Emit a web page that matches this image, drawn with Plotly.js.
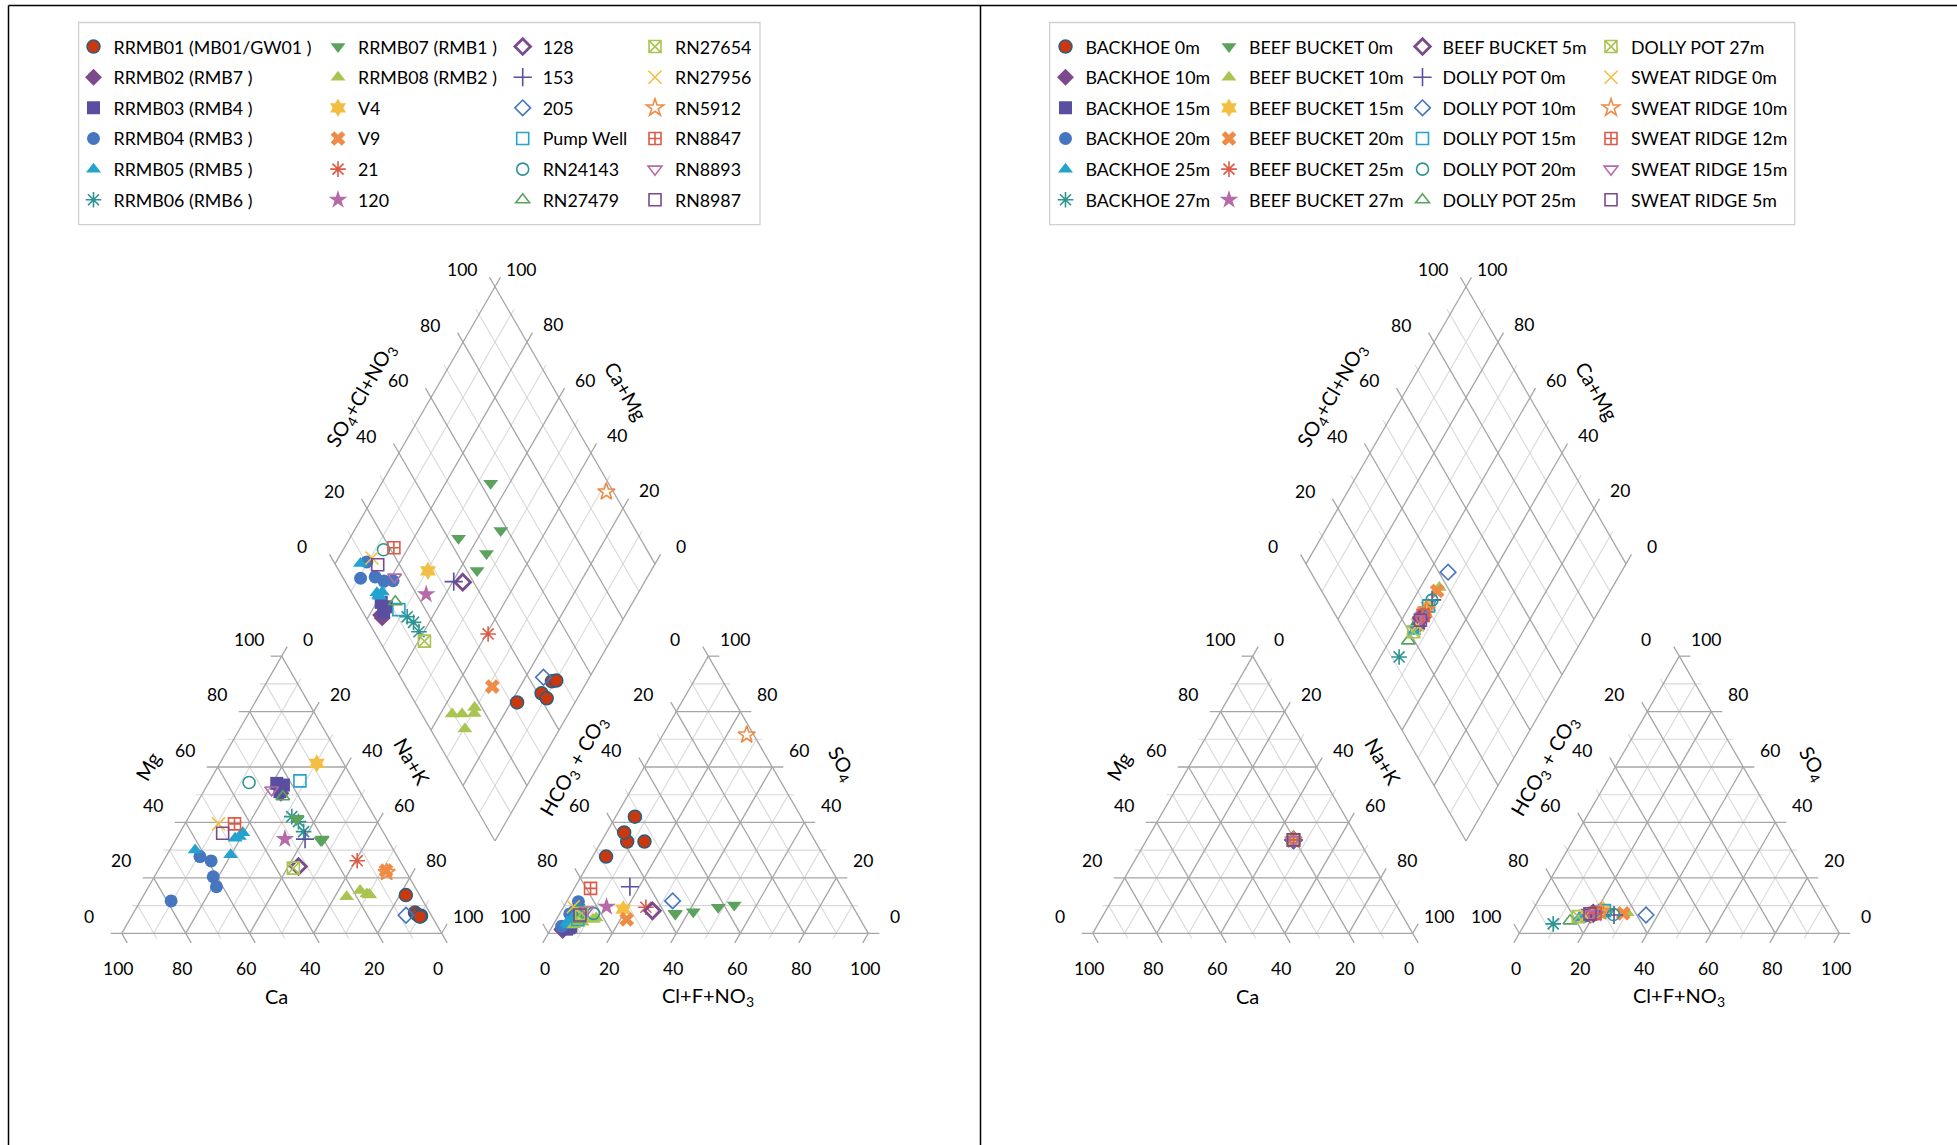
<!DOCTYPE html>
<html><head><meta charset="utf-8">
<script src="https://cdn.plot.ly/plotly-3.0.1.min.js"></script>
<style>html,body{margin:0;padding:0;background:#fff}#chart{width:1957px;height:1145px}</style>
</head><body><div id="chart"></div>
<script>
// ================= DATA (percent of meq) =================
const LEFT_NAMES = ["RRMB01 (MB01/GW01 )","RRMB02 (RMB7 )","RRMB03 (RMB4 )","RRMB04 (RMB3 )","RRMB05 (RMB5 )","RRMB06 (RMB6 )",
  "RRMB07 (RMB1 )","RRMB08 (RMB2 )","V4","V9","21","120",
  "128","153","205","Pump Well","RN24143","RN27479",
  "RN27654","RN27956","RN5912","RN8847","RN8893","RN8987"];
const LEFT_MG = [[13.8,7.5,6.3,6.7,6.0],[50.5,52.5],[54.1,53.5,51.1],[11.7,27.7,26.1,20.4,16.8],[30.1,28.3,34.3,34.9,36.3],[42.1,40.3,36.7],
  [41.1,33.7,41.5,33.5,34.0],[13.2,15.4,14.2,13.8,14.0],[61.3],[22.6],[26.2],[34.0],
  [24.1],[34.0],[6.5],[55.0],[54.4],[49.3],
  [23.5],[39.5],[22.0],[39.5],[51.7],[36.1]];
const LEFT_NA = [[81.9,87.9,90.4,89.0,90.2],[24.5,23.5],[21.4,23.8,23.9],[9.6,10.6,14.9,18.4,21.2],[7.9,19.9,18.3,19.3,19.7],[32.1,35.1,38.5],
  [34.1,45.8,34.0,45.5,45.6],[63.7,66.8,69.5,70.5,70.4],[30.3],[71.3],[60.5],[34.0],
  [43.2],[40.3],[85.6],[28.2],[12.6],[25.7],
  [41.9],[10.5],[71.8],[15.5],[21.0],[13.5]];
const LEFT_SO4 = [[27.7,33.1,36.4,33.1,42.1],[1.0,1.5],[2.0,2.5,1.5],[6.0,2.5,7.0,8.0,11.4],[4.0,5.0,3.5,4.0,3.0],[8.0,8.5,7.5],
  [10.2,9.4,7.2,7.8,7.0],[3.0,4.0,5.5,5.0,3.5],[8.7],[5.0],[9.4],[9.6],
  [8.1],[16.8],[11.7],[5.0],[7.2],[5.0],
  [7.2],[9.6],[71.6],[16.2],[8.4],[6.6]];
const LEFT_CL = [[4.2,8.1,5.5,13.5,6.0],[4.0,3.5],[5.5,5.8,5.0],[4.3,2.9,3.2,4.2,3.7],[4.0,4.7,4.4,4.0,5.0],[5.0,5.5,6.5],
  [53.0,48.4,36.0,41.4,36.2],[6.5,8.6,12.2,11.5,7.3],[19.1],[22.0],[25.8],[13.4],
  [28.5],[17.1],[33.0],[6.7],[10.5],[7.0],
  [6.8],[3.0],[26.2],[5.1],[7.8],[6.6]];

const RIGHT_NAMES = ["BACKHOE 0m","BACKHOE 10m","BACKHOE 15m","BACKHOE 20m","BACKHOE 25m","BACKHOE 27m",
  "BEEF BUCKET 0m","BEEF BUCKET 10m","BEEF BUCKET 15m","BEEF BUCKET 20m","BEEF BUCKET 25m","BEEF BUCKET 27m",
  "BEEF BUCKET 5m","DOLLY POT 0m","DOLLY POT 10m","DOLLY POT 15m","DOLLY POT 20m","DOLLY POT 25m",
  "DOLLY POT 27m","SWEAT RIDGE 0m","SWEAT RIDGE 10m","SWEAT RIDGE 12m","SWEAT RIDGE 15m","SWEAT RIDGE 5m"];
const RIGHT_MG = [33.7,33.7,33.7,33.7,33.7,33.7, 33.7,33.7,33.7,33.7,33.7,33.7, 33.7,33.7,33.7,33.7,33.7,33.7, 33.7,33.7,33.7,33.7,33.7,33.7];
const RIGHT_NA = [45.9,45.9,45.9,45.9,45.9,45.9, 45.9,45.9,45.9,45.9,45.9,45.9, 45.9,45.9,45.9,45.9,45.9,45.9, 45.9,45.9,45.9,45.9,45.9,45.9];
const RIGHT_SO4 = [7.0,6.5,6.5,6.0,5.5,3.4, 8.0,7.4,8.5,7.2,7.5,7.0, 7.2,6.6,6.6,8.2,6.8,4.5, 6.0,6.3,7.8,7.2,7.0,7.0];
const RIGHT_CL = [20.0,19.0,18.0,17.0,16.0,8.9, 24.0,30.0,22.0,28.9,21.0,20.5, 19.5,26.3,36.3,22.5,26.0,13.6, 15.4,17.5,21.5,20.1,19.0,18.6];

const TICK_VALUES = [0,20,40,60,80,100];
const GRID_VALUES = [0,10,20,30,40,50,60,70,80,90,100];

// ================= STYLE =================
const SYMBOLS = ['circle','diamond','square','circle','triangle-up','asterisk-open',
  'triangle-down','triangle-up','hexagram','x','asterisk-open','star',
  'diamond-open','cross-thin-open','diamond-open','square-open','circle-open','triangle-up-open',
  'square-x-open','x-thin-open','star-open','square-cross-open','triangle-down-open','square-open'];
const COLORS = ['#C9380F','#7A4A8C','#5A4EA0','#4676BF','#24A3CF','#2D9393',
  '#5BA35C','#A9C451','#F3BF43','#EE8C45','#DD5A47','#B76AA8',
  '#7A4A8C','#5A4EA0','#4676BF','#24A3CF','#2D9393','#5BA35C',
  '#A9C451','#F3BF43','#EE8C45','#DD5A47','#B76AA8','#7A4A8C'];
const SIZES = [13,13,13,13,13,13, 13,13,14,13,13,14, 12,13,12,12,12,12, 12,13,13,12,12,12];
const LINE_W = [1.5,0,0,0,0,1.6, 0,0,0,0,1.6,0, 2.8,1.6,1.6,1.6,1.6,1.6, 1.6,1.6,1.6,1.6,1.6,1.6];
const FONT = 'Lato, "Open Sans", sans-serif';

// ================= GEOMETRY (layout in px) =================
const W = 1957, HGT = 1145;
const SQ = Math.sqrt(3)/2;
const SIDE = 320, TH = SIDE*SQ;
const BASE_Y = 933.3, CAT_X0 = 121.7, AN_X0 = 548.3, PANEL_DX = 971;
const DIA_X = (CAT_X0 + SIDE + AN_X0)/2;
const DIA_Y = BASE_Y - (AN_X0 - CAT_X0 - SIDE)*SQ;

function cat(dx, mg, na){ return [dx + CAT_X0 + SIDE*(na + mg/2)/100, BASE_Y - TH*mg/100]; }
function an(dx, so4, cl){ return [dx + AN_X0 + SIDE*(cl + so4/2)/100, BASE_Y - TH*so4/100]; }
function dia(dx, camg, s){ return [dx + DIA_X + SIDE/2*(s - camg)/100, DIA_Y - TH*(camg + s)/100]; }
function add(p, v, t){ return [p[0]+v[0]*t, p[1]+v[1]*t]; }
function off(p, ox, oy){ return [p[0]+ox, p[1]+oy]; }
const DIR_L=[-1,0], DIR_R=[1,0], UR=[0.5,-SQ], DR=[0.5,SQ], DL=[-0.5,SQ], UL=[-0.5,-SQ];

function gridTraces(dx){
  const major = {x:[],y:[]}, minor = {x:[],y:[]};
  function seg(g,a,b){ g.x.push(a[0],b[0],null); g.y.push(a[1],b[1],null); }
  GRID_VALUES.forEach(v=>{
    const isMaj = v%20===0, g = isMaj?major:minor, t = isMaj?11:6;
    seg(g, add(cat(dx,v,0),DIR_L,t), cat(dx,v,100-v));
    seg(g, cat(dx,0,v), add(cat(dx,100-v,v),UR,t));
    seg(g, add(cat(dx,0,100-v),DR,t), cat(dx,100-v,0));
    seg(g, an(dx,v,0), add(an(dx,v,100-v),DIR_R,t));
    seg(g, add(an(dx,0,v),DL,t), an(dx,100-v,v));
    seg(g, an(dx,0,100-v), add(an(dx,100-v,0),UL,t));
    seg(g, dia(dx,v,0), add(dia(dx,v,100),UR,t));
    seg(g, dia(dx,0,v), add(dia(dx,100,v),UL,t));
  });
  const base = {type:'scatter', mode:'lines', hoverinfo:'skip', showlegend:false};
  return [
    Object.assign({}, base, {x:minor.x, y:minor.y, line:{color:'#D9D9D9', width:1.1}}),
    Object.assign({}, base, {x:major.x, y:major.y, line:{color:'#A6A6A6', width:1.3}})
  ];
}

function textAnn(p, text, size, angle){
  return {x:p[0], y:p[1], xref:'x', yref:'y', text:text, showarrow:false,
    xanchor:'center', yanchor:'middle', textangle:angle||0,
    font:{family:FONT, size:size, color:'#000'}};
}
function axisAnnotations(dx){
  const a = [];
  TICK_VALUES.forEach(v=>{
    const s = String(v);
    a.push(textAnn(off(cat(dx,v,0),-33,-17), s, 17.5));
    a.push(textAnn(off(cat(dx,100-v,v),26,-17), s, 17.5));
    a.push(textAnn(off(cat(dx,0,100-v),-4,35), s, 17.5));
    a.push(textAnn(off(an(dx,100-v,0),-33,-17), s, 17.5));
    a.push(textAnn(off(an(dx,v,100-v),27,-17), s, 17.5));
    a.push(textAnn(off(an(dx,0,v),-3,35), s, 17.5));
    a.push(textAnn(off(dia(dx,100,v),-33,-17), s, 17.5));
    a.push(textAnn(off(dia(dx,v,100),26,-17.5), s, 17.5));
  });
  a.push(textAnn(off(cat(dx,0,50),-5,63), 'Ca', 20));
  a.push(textAnn(off(cat(dx,50,0),-54,-29), 'Mg', 20, -60));
  a.push(textAnn(off(cat(dx,50,50),51,-33), 'Na+K', 20, 60));
  a.push(textAnn(off(an(dx,0,50),0,63), 'Cl+F+NO<sub>3</sub>', 20));
  a.push(textAnn(off(an(dx,50,0),-54,-29), 'HCO<sub>3</sub> + CO<sub>3</sub>', 20, -60));
  a.push(textAnn(off(an(dx,50,50),53,-31), 'SO<sub>4</sub>', 20, 60));
  a.push(textAnn(off(dia(dx,100,50),-54,-30), 'SO<sub>4</sub>+Cl+NO<sub>3</sub>', 20, -60));
  a.push(textAnn(off(dia(dx,50,100),51,-34), 'Ca+Mg', 20, 60));
  return a;
}

function seriesTrace(dx, name, i, mg, na, so4, cl, legendId, group){
  const x = [], y = [];
  for (let j=0;j<mg.length;j++){
    const p1 = cat(dx, mg[j], na[j]);
    const p2 = an(dx, so4[j], cl[j]);
    const p3 = dia(dx, 100 - na[j], so4[j] + cl[j]);
    x.push(p1[0], p2[0], p3[0]); y.push(p1[1], p2[1], p3[1]);
  }
  const filled = SYMBOLS[i].indexOf('open') < 0;
  const lineColor = (i === 0) ? '#2A5E80' : COLORS[i];
  return {type:'scatter', mode:'markers', name:name, x:x, y:y, hoverinfo:'skip',
    legend:legendId, legendgroup:group,
    marker:{symbol:SYMBOLS[i], size:SIZES[i], color:COLORS[i],
      line:{color:lineColor, width: filled ? (i===0 ? 1.5 : 0) : LINE_W[i]}}};
}

const traces = [].concat(gridTraces(0), gridTraces(PANEL_DX));
LEFT_NAMES.forEach((n,i)=>{
  const lg = 'legend' + (Math.floor(i/6)===0 ? '' : (Math.floor(i/6)+1));
  traces.push(seriesTrace(0, n, i, LEFT_MG[i], LEFT_NA[i], LEFT_SO4[i], LEFT_CL[i], lg, 'L'+i));
});
RIGHT_NAMES.forEach((n,i)=>{
  const lg = 'legend' + (Math.floor(i/6)+5);
  traces.push(seriesTrace(PANEL_DX, n, i, [RIGHT_MG[i]], [RIGHT_NA[i]], [RIGHT_SO4[i]], [RIGHT_CL[i]], lg, 'R'+i));
});

// legend column marker positions (px)
const LEG_COLS = [93.5, 338, 522.7, 655, 1065.5, 1229, 1422.5, 1611];
const LEG_TOP = 28.5;
function legendCfg(xpx){
  return {x:(xpx-20)/W, y:1-LEG_TOP/HGT, xanchor:'left', yanchor:'top', orientation:'v',
    bgcolor:'rgba(0,0,0,0)', borderwidth:0, traceorder:'grouped', tracegroupgap:4.5,
    font:{family:FONT, size:17.8, color:'#000'}, itemclick:false, itemdoubleclick:false};
}

const layout = {
  width:W, height:HGT, margin:{l:0,r:0,t:0,b:0},
  paper_bgcolor:'#fff', plot_bgcolor:'#fff', hovermode:false, dragmode:false,
  xaxis:{range:[0,W], visible:false, fixedrange:true},
  yaxis:{range:[HGT,0], visible:false, fixedrange:true},
  annotations:[].concat(axisAnnotations(0), axisAnnotations(PANEL_DX)),
  shapes:[
    {type:'rect', xref:'x', yref:'y', x0:78.6, y0:22.5, x1:760, y1:224.6, line:{color:'#D0D0D0', width:1.3}},
    {type:'rect', xref:'x', yref:'y', x0:1049.6, y0:22.5, x1:1794.7, y1:224.6, line:{color:'#D0D0D0', width:1.3}},
    {type:'line', xref:'x', yref:'y', x0:8.5, y0:5.5, x1:8.5, y1:HGT, line:{color:'#000', width:1.5}},
    {type:'line', xref:'x', yref:'y', x0:8.5, y0:5.5, x1:W, y1:5.5, line:{color:'#000', width:1.5}},
    {type:'line', xref:'x', yref:'y', x0:980.5, y0:5.5, x1:980.5, y1:HGT, line:{color:'#000', width:1.5}}
  ]
};
LEG_COLS.forEach((xpx,k)=>{ layout['legend' + (k===0?'':(k+1))] = legendCfg(xpx); });

Plotly.newPlot('chart', traces, layout, {displayModeBar:false, staticPlot:true});
</script></body></html>
